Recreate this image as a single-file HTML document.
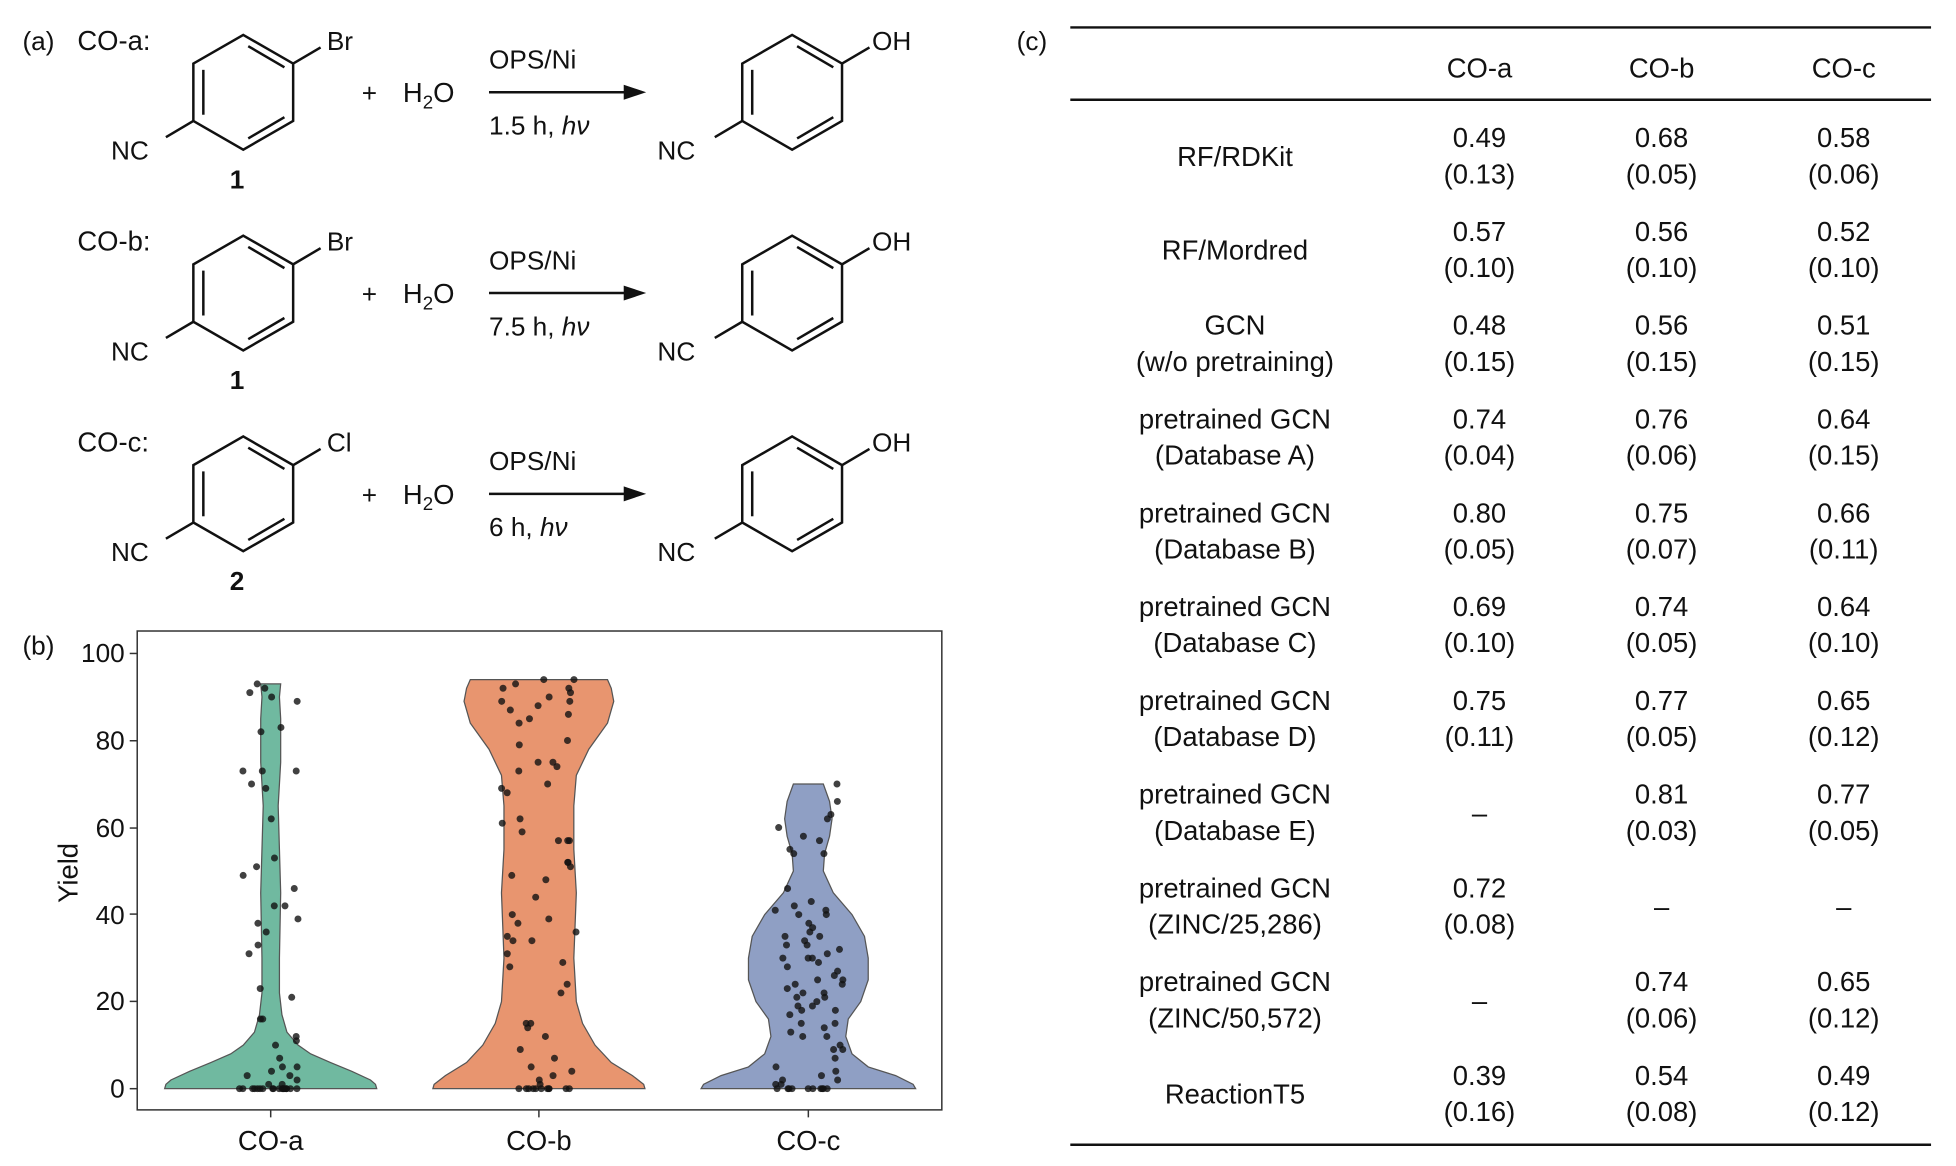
<!DOCTYPE html>
<html><head><meta charset="utf-8"><style>
html,body{margin:0;padding:0;background:#fff;}
svg{display:block;}
text{font-family:"Liberation Sans",Arial,sans-serif;fill:#111;}
</style></head><body>
<svg id="s" width="1956" height="1166" viewBox="0 0 1568 935" preserveAspectRatio="none" xmlns="http://www.w3.org/2000/svg">
<rect width="1568" height="935" fill="#fff"/>
<defs>
<g id="ring" fill="none" stroke="#111" stroke-width="2">
  <polygon points="0,-46 40,-23 40,23 0,46 -40,23 -40,-23"/>
  <line x1="-32" y1="-18" x2="-32" y2="18"/>
  <line x1="4" y1="-37" x2="33" y2="-20"/>
  <line x1="4" y1="37" x2="33" y2="20"/>
  <line x1="40" y1="-23" x2="62" y2="-36"/>
  <line x1="-40" y1="23" x2="-62" y2="36"/>
</g>
</defs>
<text x="18" y="40" font-size="21">(a)</text>
<g id="rows"></g>

<text x="18" y="525" font-size="21">(b)</text>
<rect x="110" y="506" width="645" height="384" fill="none" stroke="#333" stroke-width="1.2"/>
<g font-size="21" text-anchor="end">
<text x="100" y="531">100</text><text x="100" y="601">80</text><text x="100" y="671">60</text>
<text x="100" y="741">40</text><text x="100" y="810">20</text><text x="100" y="880">0</text>
</g>
<g stroke="#333" stroke-width="1.2">
<line x1="104" y1="524" x2="110" y2="524"/><line x1="104" y1="594" x2="110" y2="594"/>
<line x1="104" y1="664" x2="110" y2="664"/><line x1="104" y1="733" x2="110" y2="733"/>
<line x1="104" y1="803" x2="110" y2="803"/><line x1="104" y1="873" x2="110" y2="873"/>
<line x1="217" y1="890" x2="217" y2="896"/><line x1="432" y1="890" x2="432" y2="896"/><line x1="648" y1="890" x2="648" y2="896"/>
</g>
<text transform="translate(62,700) rotate(-90)" font-size="22" text-anchor="middle">Yield</text>
<g font-size="22" text-anchor="middle">
<text x="217" y="922">CO-a</text><text x="432" y="922">CO-b</text><text x="648" y="922">CO-c</text>
</g>
<g id="violins"></g>

<text x="815" y="40" font-size="21">(c)</text>
<line x1="858" y1="22" x2="1548" y2="22" stroke="#111" stroke-width="2"/>
<line x1="858" y1="80" x2="1548" y2="80" stroke="#111" stroke-width="2"/>
<line x1="858" y1="918" x2="1548" y2="918" stroke="#111" stroke-width="2"/>
<g font-size="22" text-anchor="middle">
<text x="1186" y="62">CO-a</text><text x="1332" y="62">CO-b</text><text x="1478" y="62">CO-c</text>
</g>
<g id="tbl" font-size="22" text-anchor="middle"></g>
</svg>
<script>
var NS="http://www.w3.org/2000/svg";
function el(p,t,a,txt){var e=document.createElementNS(NS,t);for(var k in a)e.setAttribute(k,a[k]);if(txt!=null)e.textContent=txt;p.appendChild(e);return e;}
var rows=document.getElementById("rows");
var R=[["CO-a:","Br","1","1.5 h, "],["CO-b:","Br","1","7.5 h, "],["CO-c:","Cl","2","6 h, "]];
for(var i=0;i<3;i++){
 var dy=i*161;var g=el(rows,"g",{transform:"translate(0,"+dy+")"});
 el(g,"text",{x:62,y:40,"font-size":22},R[i][0]);
 el(g,"use",{href:"#ring",x:195,y:74});
 el(g,"text",{x:262,y:40,"font-size":21},R[i][1]);
 el(g,"text",{x:89,y:128,"font-size":21},"NC");
 el(g,"text",{x:190,y:151,"font-size":21,"font-weight":"bold","text-anchor":"middle"},R[i][2]);
 el(g,"text",{x:290,y:82,"font-size":21},"+");
 var t=el(g,"text",{x:323,y:82,"font-size":22},"H");
 el(t,"tspan",{"font-size":15,dy:5},"2");el(t,"tspan",{dy:-5},"O");
 el(g,"line",{x1:392,y1:74,x2:505,y2:74,stroke:"#111","stroke-width":2});
 el(g,"polygon",{points:"518,74 500,68 500,80",fill:"#111"});
 el(g,"text",{x:392,y:55,"font-size":21},"OPS/Ni");
 var t2=el(g,"text",{x:392,y:108,"font-size":21},R[i][3]);
 el(t2,"tspan",{"font-style":"italic"},"hν");
 el(g,"use",{href:"#ring",x:635,y:74});
 el(g,"text",{x:699,y:40,"font-size":21},"OH");
 el(g,"text",{x:527,y:128,"font-size":21},"NC");
}
var V=document.getElementById("violins");
function Y(v){return 873-v*3.49;}
function violin(cx,prof,col){
 var L=[],Rr=[];
 for(var j=0;j<prof.length;j++){var v=prof[j][0],w=prof[j][1];L.push((cx-w)+","+Y(v));Rr.unshift((cx+w)+","+Y(v));}
 el(V,"polygon",{points:L.concat(Rr).join(" "),fill:col,stroke:"#555","stroke-width":1});
}
violin(217,[[0,85],[1,84],[2,80],[4,65],[6,48],[8,32],[10,22],[13,13],[17,9],[22,7],[30,7],[45,8],[55,7],[65,6],[75,8],[85,8],[90,7],[93,8]],"#70b9a0");
violin(432,[[0,85],[1,84],[3,75],[6,58],[10,45],[15,35],[20,30],[30,28],[45,30],[55,28],[65,28],[72,30],[78,40],[84,55],[89,60],[92,58],[94,55]],"#e8956f");
violin(648,[[0,86],[1,84],[3,70],[5,48],[8,35],[12,30],[16,32],[20,42],[25,48],[30,48],[35,45],[40,35],[45,20],[50,12],[54,13],[58,17],[62,19],[66,17],[70,12]],"#8f9fc4");
var seed=7;function rnd(){seed=(seed*16807)%2147483647;return seed/2147483647;}
function dots(cx,vals,spread){
 for(var k=0;k<vals.length;k++){el(V,"circle",{cx:cx+(rnd()-0.5)*spread,cy:Y(vals[k]),r:2.8,fill:"#111","fill-opacity":0.8});}
}
dots(217,[0,0,0,0,0,0,0,0,0,0,0,0,0,0,0,0,0,0,1,1,2,3,3,4,5,5,7,10,11,12,16,16,21,23,31,33,36,38,39,42,42,46,49,51,53,62,69,70,73,73,73,82,83,89,90,91,92,93],50);
dots(432,[0,0,0,0,0,0,0,0,0,0,0,1,2,3,4,5,7,9,12,14,15,15,22,24,28,29,31,34,34,35,36,38,39,40,44,48,49,51,52,52,57,57,57,59,61,62,68,69,70,73,74,75,75,79,80,84,85,86,87,88,89,89,90,91,92,92,93,94,94],60);
dots(648,[0,0,0,0,0,0,0,0,0,0,1,1,2,2,3,4,5,7,9,9,10,12,12,13,14,15,15,17,18,18,19,19,20,21,21,22,22,23,24,24,25,25,26,27,28,29,30,30,30,31,32,33,33,34,35,35,36,37,38,40,40,41,41,42,43,46,54,54,55,57,58,60,62,63,66,70],56);
var T=document.getElementById("tbl");
var D=[["RF/RDKit",null,["0.49","(0.13)"],["0.68","(0.05)"],["0.58","(0.06)"]],
["RF/Mordred",null,["0.57","(0.10)"],["0.56","(0.10)"],["0.52","(0.10)"]],
["GCN","(w/o pretraining)",["0.48","(0.15)"],["0.56","(0.15)"],["0.51","(0.15)"]],
["pretrained GCN","(Database A)",["0.74","(0.04)"],["0.76","(0.06)"],["0.64","(0.15)"]],
["pretrained GCN","(Database B)",["0.80","(0.05)"],["0.75","(0.07)"],["0.66","(0.11)"]],
["pretrained GCN","(Database C)",["0.69","(0.10)"],["0.74","(0.05)"],["0.64","(0.10)"]],
["pretrained GCN","(Database D)",["0.75","(0.11)"],["0.77","(0.05)"],["0.65","(0.12)"]],
["pretrained GCN","(Database E)",null,["0.81","(0.03)"],["0.77","(0.05)"]],
["pretrained GCN","(ZINC/25,286)",["0.72","(0.08)"],null,null],
["pretrained GCN","(ZINC/50,572)",null,["0.74","(0.06)"],["0.65","(0.12)"]],
["ReactionT5",null,["0.39","(0.16)"],["0.54","(0.08)"],["0.49","(0.12)"]]];
var xs=[1186,1332,1478];
for(var r=0;r<D.length;r++){
 var y1=118+r*75.2,y2=y1+29,ym=y1+15;
 if(D[r][1]){el(T,"text",{x:990,y:y1},D[r][0]);el(T,"text",{x:990,y:y2},D[r][1]);}
 else el(T,"text",{x:990,y:ym},D[r][0]);
 for(var cidx=0;cidx<3;cidx++){var v=D[r][2+cidx];
  if(v){el(T,"text",{x:xs[cidx],y:y1},v[0]);el(T,"text",{x:xs[cidx],y:y2},v[1]);}
  else el(T,"text",{x:xs[cidx],y:ym},"–");}
}
</script>
</body></html>
